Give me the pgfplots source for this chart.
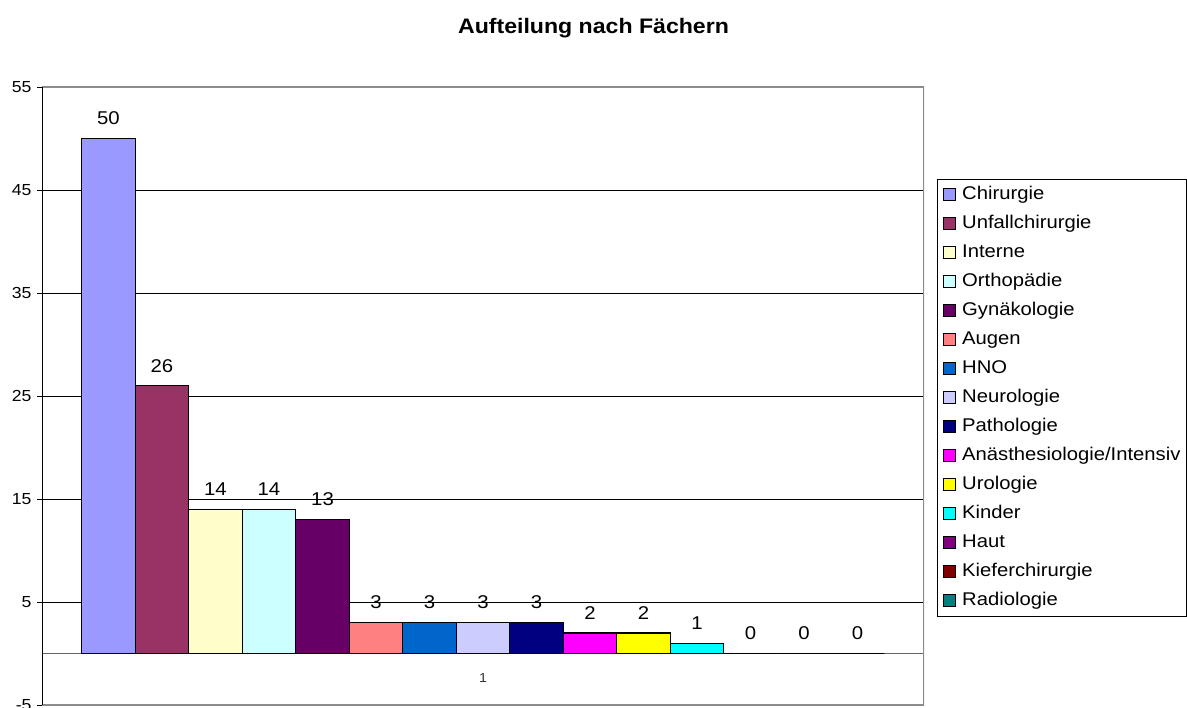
\documentclass[border=0pt]{standalone}
\usepackage{pgfplots}
\pgfplotsset{compat=1.18}
\usepackage{fontspec}
\setmainfont[FakeStretch=1.1]{Liberation Sans}
\definecolor{c1}{HTML}{9999FF}
\definecolor{c2}{HTML}{993366}
\definecolor{c3}{HTML}{FFFFCC}
\definecolor{c4}{HTML}{CCFFFF}
\definecolor{c5}{HTML}{660066}
\definecolor{c6}{HTML}{FF8080}
\definecolor{c7}{HTML}{0066CC}
\definecolor{c8}{HTML}{CCCCFF}
\definecolor{c9}{HTML}{000080}
\definecolor{c10}{HTML}{FF00FF}
\definecolor{c11}{HTML}{FFFF00}
\definecolor{c12}{HTML}{00FFFF}
\definecolor{c13}{HTML}{800080}
\definecolor{c14}{HTML}{800000}
\definecolor{c15}{HTML}{008080}
\begin{document}
\begin{tikzpicture}[x=1pt,y=1pt]
\useasboundingbox (0,-708) rectangle (1187,0);
\node[font=\fontsize{21}{24}\selectfont\bfseries] at (593.5,-28) {Aufteilung nach Fächern};
\begin{axis}[
  at={(42pt,-705pt)}, anchor=south west,
  width=882pt, height=618pt, scale only axis,
  xmin=0.5, xmax=1.5, ymin=-5, ymax=55,
  ytick={-5,5,15,25,35,45,55},
  xtick={1}, xticklabels={1},
  axis x line*=middle, axis y line*=left,
  x axis line style={black!60, line width=1.6pt},
  y axis line style={black, line width=1pt},
  xtick style={draw=none},
  ytick style={black, line width=0.8pt},
  tick align=outside, major tick length=5pt,
  ymajorgrids, grid style={black, line width=0.7pt},
  /pgf/number format/assume math mode=true,
  yticklabel style={font=\fontsize{16}{18}\selectfont, xshift=-2pt},
  xticklabel style={font=\fontsize{13}{15}\selectfont, text=black!80, yshift=-12pt},
  ybar=0pt, bar width=53.5pt,
  every axis plot/.append style={draw=black, line width=1.2pt},
  nodes near coords,
  every node near coord/.append style={font=\fontsize{18.5}{20}\selectfont, text=black, anchor=center, yshift=20pt},
  legend style={at={(1.0147,0.8511)}, anchor=north west, draw=black, line width=0.8pt,
    font=\fontsize{18.4}{20}\selectfont, row sep=12pt, column sep=6pt, inner xsep=6pt, inner ysep=7pt,
    nodes={inner sep=0pt, text height=13pt, text depth=4pt}},
  legend cell align=left,
  legend image code/.code={\draw[#1, line width=0.8pt, draw=black] (0pt,-5pt) rectangle (12pt,7pt);},
]
\draw[black!45, line width=1.4pt] (rel axis cs:0,0) rectangle (rel axis cs:1,1);
\addplot[fill=c1] coordinates {(1,50)};
\addplot[fill=c2] coordinates {(1,26)};
\addplot[fill=c3] coordinates {(1,14)};
\addplot[fill=c4] coordinates {(1,14)};
\addplot[fill=c5] coordinates {(1,13)};
\addplot[fill=c6] coordinates {(1,3)};
\addplot[fill=c7] coordinates {(1,3)};
\addplot[fill=c8] coordinates {(1,3)};
\addplot[fill=c9] coordinates {(1,3)};
\addplot[fill=c10] coordinates {(1,2)};
\addplot[fill=c11] coordinates {(1,2)};
\addplot[fill=c12] coordinates {(1,1)};
\addplot[fill=c13] coordinates {(1,0)};
\addplot[fill=c14] coordinates {(1,0)};
\addplot[fill=c15] coordinates {(1,0)};
\draw[black, line width=1pt] (rel axis cs:0,0) -- (rel axis cs:0,1);
\legend{Chirurgie,Unfallchirurgie,Interne,Orthopädie,Gynäkologie,Augen,HNO,Neurologie,Pathologie,Anästhesiologie/Intensiv,Urologie,Kinder,Haut,Kieferchirurgie,Radiologie}
\end{axis}
\end{tikzpicture}
\end{document}
